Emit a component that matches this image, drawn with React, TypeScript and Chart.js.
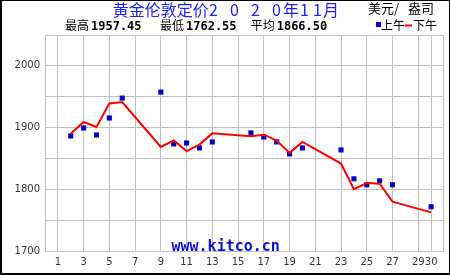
import React, { useEffect, useRef } from "react";
import { Chart, registerables } from "chart.js";

Chart.register(...registerables);

// Trading days of November 2020
const days = [2, 3, 4, 5, 6, 9, 10, 11, 12, 13, 16, 17, 18, 19, 20, 23, 24, 25, 26, 27, 30];
// Morning (上午) fix, USD/oz
const amPrices = [1886.4, 1899.4, 1888.0, 1915.5, 1947.8, 1957.45, 1873.5, 1875.0, 1867.0, 1876.7, 1891.3, 1884.8, 1876.7, 1857.4, 1867.0, 1863.8, 1817.0, 1807.3, 1813.7, 1807.3, 1771.7];
// Afternoon (下午) fix, USD/oz
const pmPrices = [1890.0, 1909.0, 1901.0, 1939.0, 1941.4, 1868.6, 1879.0, 1862.0, 1872.4, 1890.6, 1885.8, 1888.5, 1879.0, 1859.0, 1876.7, 1841.7, 1800.2, 1810.0, 1809.0, 1780.0, 1762.55];
// X axis tick labels
const xTickValues = [1, 3, 5, 7, 9, 11, 13, 15, 17, 19, 21, 23, 25, 27, 29, 30];
const yLabelValues = [1700, 1800, 1900, 2000];

const titleParts: [string, number][] = [
  ["黄金伦敦定价", 112.7],
  ["2", 209],
  ["0", 230],
  ["2", 251],
  ["0", 272],
  ["年", 283],
  ["1", 300],
  ["1", 313],
  ["月", 323],
];
const unitLabel = ["美元/", "盎司"];
const statLabels = ["最高", "最低", "平均"];
const statValues = ["1957.45", "1762.55", "1866.50"];
const legendLabels = ["上午", "下午"];
const siteText = "www.kitco.cn";

const CJK = '"Noto Sans CJK SC"';

const decorPlugin = {
  id: "decor",
  beforeDraw(chart: any) {
    const ctx = chart.ctx;
    ctx.save();
    ctx.fillStyle = "#ffffff";
    ctx.fillRect(0, 0, chart.width, chart.height);
    ctx.restore();
  },
  afterDraw(chart: any) {
    const ctx = chart.ctx;
    const a = chart.chartArea;
    ctx.save();
    // plot frame
    ctx.strokeStyle = "#c0c0c0";
    ctx.lineWidth = 1;
    ctx.strokeRect(Math.round(a.left) + 0.5, Math.round(a.top) + 0.5, Math.round(a.right - a.left) - 1, Math.round(a.bottom - a.top));

    // title
    ctx.fillStyle = "#2020f0";
    ctx.textBaseline = "middle";
    ctx.textAlign = "left";
    ctx.font = `16px ${CJK}`;
    titleParts.forEach(([t, x]) => ctx.fillText(t, x, 10));

    // unit
    ctx.fillStyle = "#000000";
    ctx.font = `13px ${CJK}`;
    ctx.fillText(unitLabel[0], 368, 8.5);
    ctx.fillText(unitLabel[1], 408, 8.5);

    // stats
    const statX = [65, 160, 250.7];
    statLabels.forEach((s, i) => {
      ctx.font = `12px ${CJK}`;
      ctx.textBaseline = "middle";
      ctx.fillText(s, statX[i], 25.5);
      ctx.font = 'bold 12px "DejaVu Sans Mono"';
      ctx.textBaseline = "alphabetic";
      ctx.fillText(statValues[i], statX[i] + 26, 30);
    });

    // legend
    ctx.fillStyle = "#0000c8";
    ctx.fillRect(376, 22, 5, 5);
    ctx.fillStyle = "#000000";
    ctx.font = `12px ${CJK}`;
    ctx.textBaseline = "middle";
    ctx.fillText(legendLabels[0], 381, 25.5);
    ctx.fillStyle = "#ff0000";
    ctx.fillRect(405, 24.5, 7, 2);
    ctx.fillStyle = "#000000";
    ctx.fillText(legendLabels[1], 413, 25.5);

    // site
    ctx.fillStyle = "#1010d0";
    ctx.font = 'bold 15px "DejaVu Sans Mono"';
    ctx.textBaseline = "alphabetic";
    ctx.fillText(siteText, 171.5, 251);

    // outer border
    ctx.fillStyle = "#000000";
    ctx.fillRect(0, 0, 450, 1);
    ctx.fillRect(0, 0, 2, 275);
    ctx.fillRect(449, 0, 1, 275);
    ctx.fillRect(0, 273, 450, 2);
    ctx.restore();
  },
};

export default function App() {
  const ref = useRef<HTMLCanvasElement>(null);
  useEffect(() => {
    document.body.style.margin = "0";
    const canvas = ref.current!;
    const tickFont = { family: '"DejaVu Sans"', size: 10 };
    const chart = new Chart(canvas, {
      type: "line",
      data: {
        datasets: [
          {
            label: "下午",
            data: days.map((d, i) => ({ x: d, y: pmPrices[i] })),
            borderColor: "#ff0000",
            backgroundColor: "#ff0000",
            borderWidth: 2,
            pointRadius: 0,
            tension: 0,
            fill: false,
          },
          {
            label: "上午",
            data: days.map((d, i) => ({ x: d, y: amPrices[i] })),
            showLine: false,
            pointStyle: "rect",
            pointRadius: 3.6,
            pointBorderWidth: 0,
            backgroundColor: "#0000c8",
            borderColor: "#0000c8",
          },
        ],
      },
      options: {
        responsive: false,
        animation: false,
        devicePixelRatio: 1,
        layout: { padding: { top: 35, right: 6, left: 0, bottom: 0 } },
        plugins: { legend: { display: false }, tooltip: { enabled: false }, title: { display: false } },
        scales: {
          x: {
            type: "linear",
            min: 0,
            max: 31,
            afterBuildTicks: (s: any) => {
              s.ticks = xTickValues.map((v) => ({ value: v }));
            },
            afterFit: (s: any) => {
              s.height = 24;
            },
            grid: { color: "#c0c0c0", drawTicks: false, lineWidth: 1 },
            border: { display: false },
            ticks: {
              autoSkip: false,
              maxRotation: 0,
              minRotation: 0,
              padding: 5,
              color: "#333333",
              font: tickFont,
              callback: (v: any) => String(v),
            },
          },
          y: {
            min: 1700,
            max: 2050,
            afterFit: (s: any) => {
              s.width = 45;
            },
            grid: { color: "#c0c0c0", drawTicks: false, lineWidth: 1 },
            border: { display: false },
            ticks: {
              stepSize: 50,
              padding: 5,
              color: "#333333",
              font: tickFont,
              callback: (v: any) => (yLabelValues.includes(v) ? String(v) : ""),
            },
          },
        },
      },
      plugins: [decorPlugin],
    });
    return () => chart.destroy();
  }, []);
  return (
    <div style={{ width: 450, height: 275 }}>
      <canvas ref={ref} width={450} height={275} style={{ display: "block" }} />
    </div>
  );
}
